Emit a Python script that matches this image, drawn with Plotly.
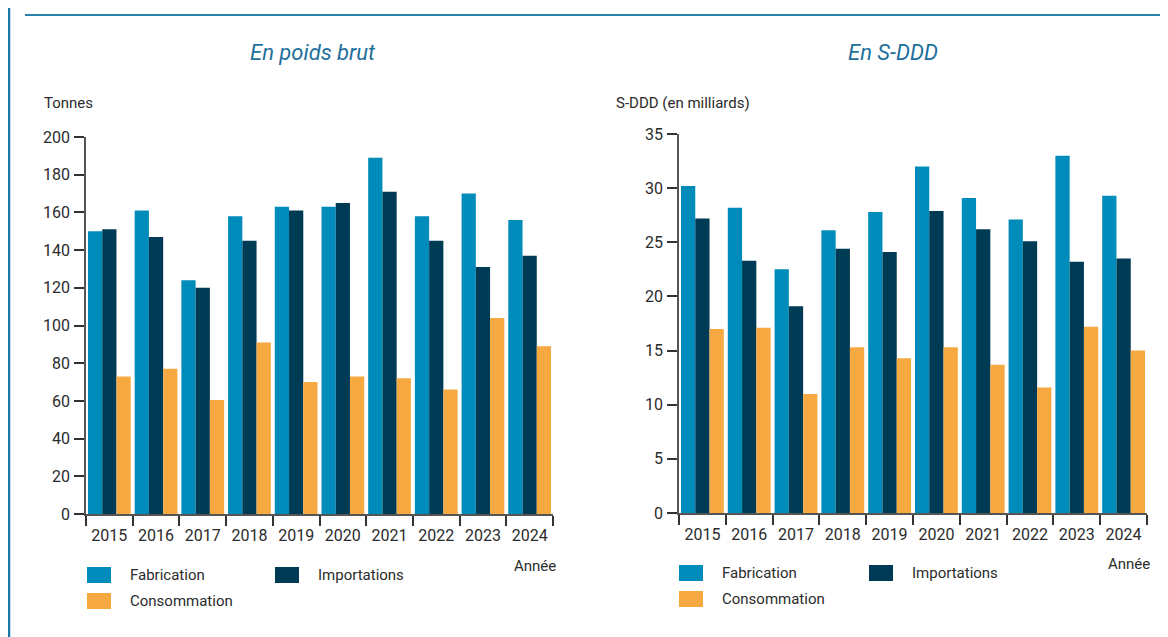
import plotly.graph_objects as go

# ---------------- data ----------------
years = ["2015", "2016", "2017", "2018", "2019", "2020", "2021", "2022", "2023", "2024"]

fab_tonnes = [150, 161, 124, 158, 163, 163, 189, 158, 170, 156]
imp_tonnes = [151, 147, 120, 145, 161, 165, 171, 145, 131, 137]
con_tonnes = [73, 77, 60.5, 91, 70, 73, 72, 66, 104, 89]

fab_sddd = [30.2, 28.2, 22.5, 26.1, 27.8, 32.0, 29.1, 27.1, 33.0, 29.3]
imp_sddd = [27.2, 23.3, 19.1, 24.4, 24.1, 27.9, 26.2, 25.1, 23.2, 23.5]
con_sddd = [17.0, 17.1, 11.0, 15.3, 14.3, 15.3, 13.7, 11.6, 17.2, 15.0]

series_names = ["Fabrication", "Importations", "Consommation"]
colors = ["#008CBA", "#003B55", "#F5A940"]

# ---------------- styling ----------------
W, H = 1168, 637
OX, OY = 8, 8  # page body margin offset
FONT = "Roboto, Liberation Sans, sans-serif"
TXT = "#2b2b2b"
BLUE = "#1f6f9c"

def px(x):
    return (x - OX) / W

def py(y):
    return 1 - (y - OY) / H

fig = go.Figure()

left = [fab_tonnes, imp_tonnes, con_tonnes]
right = [fab_sddd, imp_sddd, con_sddd]
for i, name in enumerate(series_names):
    fig.add_trace(go.Bar(x=years, y=left[i], name=name, marker_color=colors[i],
                         marker_line_width=0, xaxis="x", yaxis="y", showlegend=False))
for i, name in enumerate(series_names):
    fig.add_trace(go.Bar(x=years, y=right[i], name=name, marker_color=colors[i],
                         marker_line_width=0, xaxis="x2", yaxis="y2", showlegend=False))

axis_common = dict(showline=True, linecolor="#555555", linewidth=1.5,
                   ticks="outside", ticklen=10, tickcolor="#333333", tickwidth=1.5,
                   showgrid=False, zeroline=False, automargin=False,
                   tickfont=dict(family=FONT, size=16, color=TXT))

fig.update_layout(
    width=W, height=H,
    margin=dict(l=0, r=0, t=0, b=0, pad=0, autoexpand=False),
    paper_bgcolor="white", plot_bgcolor="white",
    barmode="group", bargap=0.085, bargroupgap=0,
    font=dict(family=FONT, color=TXT),
    showlegend=False,
    xaxis=dict(domain=[px(86), px(553)], type="category", tickson="boundaries",
               tickangle=0, ticklabelstandoff=6, anchor="y", **axis_common),
    yaxis=dict(domain=[py(514), py(137)], range=[0, 200], dtick=20, anchor="x",
               ticklabelstandoff=1, **axis_common),
    xaxis2=dict(domain=[px(679), px(1147)], type="category", tickson="boundaries",
                tickangle=0, ticklabelstandoff=6, anchor="y2", **axis_common),
    yaxis2=dict(domain=[py(513), py(134)], range=[0, 35], dtick=5, anchor="x2",
                ticklabelstandoff=1, **axis_common),
)

ann = []
shapes = []

# frame lines
shapes.append(dict(type="line", xref="paper", yref="paper", x0=px(9), x1=px(9), y0=0, y1=1,
                   line=dict(color="#1c78a6", width=2.5)))
shapes.append(dict(type="line", xref="paper", yref="paper", x0=px(25), x1=px(1160),
                   y0=py(15), y1=py(15), line=dict(color="#2b7fa8", width=2)))

# subtitles
ann.append(dict(text="<i>En poids brut</i>", x=px(313), y=py(52), xref="paper", yref="paper",
                showarrow=False, xanchor="center", yanchor="middle",
                font=dict(family=FONT, size=22, color=BLUE)))
ann.append(dict(text="<i>En S-DDD</i>", x=px(893), y=py(52), xref="paper", yref="paper",
                showarrow=False, xanchor="center", yanchor="middle",
                font=dict(family=FONT, size=22, color=BLUE)))

# axis titles
ann.append(dict(text="Tonnes", x=px(42), y=py(103), xref="paper", yref="paper",
                showarrow=False, xanchor="left", yanchor="middle",
                font=dict(family=FONT, size=15, color=TXT)))
ann.append(dict(text="S-DDD (en milliards)", x=px(614), y=py(103), xref="paper", yref="paper",
                showarrow=False, xanchor="left", yanchor="middle",
                font=dict(family=FONT, size=15, color=TXT)))
ann.append(dict(text="Année", x=px(558), y=py(566), xref="paper", yref="paper",
                showarrow=False, xanchor="right", yanchor="middle",
                font=dict(family=FONT, size=15, color=TXT)))
ann.append(dict(text="Année", x=px(1152), y=py(564), xref="paper", yref="paper",
                showarrow=False, xanchor="right", yanchor="middle",
                font=dict(family=FONT, size=15, color=TXT)))

# custom legends
def legend(x0, xcol2, yrow1, yrow2):
    items = [(series_names[0], colors[0], x0, yrow1),
             (series_names[1], colors[1], xcol2, yrow1),
             (series_names[2], colors[2], x0, yrow2)]
    for name, col, x, y in items:
        shapes.append(dict(type="rect", xref="paper", yref="paper",
                           x0=px(x), x1=px(x + 24), y0=py(y + 8), y1=py(y - 8),
                           fillcolor=col, line=dict(width=0)))
        ann.append(dict(text=name, x=px(x + 41), y=py(y), xref="paper", yref="paper",
                        showarrow=False, xanchor="left", yanchor="middle",
                        font=dict(family=FONT, size=15, color=TXT)))

legend(87, 275, 575, 601)
legend(679, 869, 573, 599)

fig.update_layout(annotations=ann, shapes=shapes)

fig.write_html("out.html")
